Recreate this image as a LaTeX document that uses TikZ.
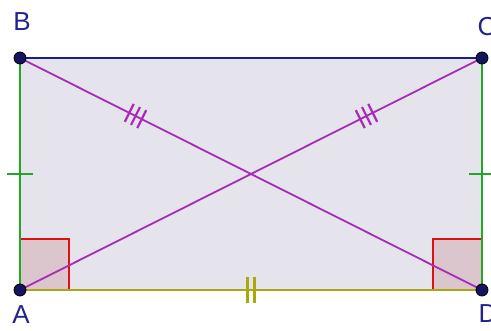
\documentclass[tikz,border=0pt]{standalone}
\usepackage{fontspec}
\setmainfont{Liberation Sans}
\usetikzlibrary{calc}
\definecolor{rectfill}{HTML}{E5E4EC}
\definecolor{sqfill}{HTML}{DCC6CE}
\definecolor{navyline}{HTML}{1C1C8A}
\definecolor{greenline}{HTML}{22A822}
\definecolor{oliveline}{HTML}{A8A810}
\definecolor{diagline}{HTML}{A82AB8}
\definecolor{redline}{HTML}{E01010}
\definecolor{ptfill}{HTML}{141460}
\definecolor{lblcol}{HTML}{22228C}
\tikzset{
  pt/.style={circle,fill=ptfill,draw=black,line width=0.8pt,inner sep=0pt,minimum size=12pt},
  lbl/.style={text=lblcol,font=\fontsize{26}{26}\selectfont,inner sep=0pt},
  side/.style={line width=2.6pt},
  diag/.style={draw=diagline,line width=1.8pt},
  tickmark/.style={line width=2.6pt},
  rightsq/.style={draw=redline,fill=sqfill,line width=2.4pt}
}
\begin{document}
\begin{tikzpicture}[x=1pt,y=-1pt]
\useasboundingbox (0,0) rectangle (491,331);
\coordinate (pA) at (20,290);
\coordinate (pB) at (20,58);
\coordinate (pC) at (482,58);
\coordinate (pD) at (482,290);
% rectangle fill
\fill[rectfill] (pA) -- (pB) -- (pC) -- (pD) -- cycle;
% right angle squares
\draw[rightsq] (pA) rectangle ++(49,-51);
\draw[rightsq] (pD) rectangle ++(-49,-51);
% diagonals
\draw[diag] (pB) -- (pD);
\draw[diag] (pA) -- (pC);
% triple ticks on diagonals
\foreach \s/\e in {pB/pD, pC/pA}{
  \foreach \k in {-7,0,7}{
    \coordinate (tc) at ($($(\s)!0.25!(\e)$)!\k pt!(\e)$);
    \draw[diag,line width=2.2pt] ($(tc)!10pt!90:(\e)$) -- ($(tc)!10pt!-90:(\e)$);
  }
}
% sides
\draw[side,navyline] (pB) -- (pC);
\draw[side,greenline] (pA) -- (pB);
\draw[side,greenline] (pD) -- (pC);
\draw[side,oliveline] (pA) -- (pD);
% single ticks on vertical sides
\coordinate (mAB) at ($(pA)!0.5!(pB)$);
\coordinate (mDC) at ($(pD)!0.5!(pC)$);
\draw[tickmark,greenline] ($(mAB)!13pt!90:(pB)$) -- ($(mAB)!13pt!-90:(pB)$);
\draw[tickmark,greenline] ($(mDC)!13pt!90:(pC)$) -- ($(mDC)!13pt!-90:(pC)$);
% double ticks on bottom
\foreach \k in {-3.5,3.5}{
  \coordinate (bt) at ($($(pA)!0.5!(pD)$)!\k pt!(pD)$);
  \draw[tickmark,oliveline] ($(bt)!13pt!90:(pD)$) -- ($(bt)!13pt!-90:(pD)$);
}
% points
\node[pt] (A) at (pA) {};
\node[pt] (B) at (pB) {};
\node[pt] (C) at (pC) {};
\node[pt] (D) at (pD) {};
% labels
\node[lbl] (lA) at (21,315) {A};
\node[lbl] (lB) at (22,22) {B};
\node[lbl] (lC) at (487,27) {C};
\node[lbl] (lD) at (488,314) {D};
\end{tikzpicture}
\end{document}
